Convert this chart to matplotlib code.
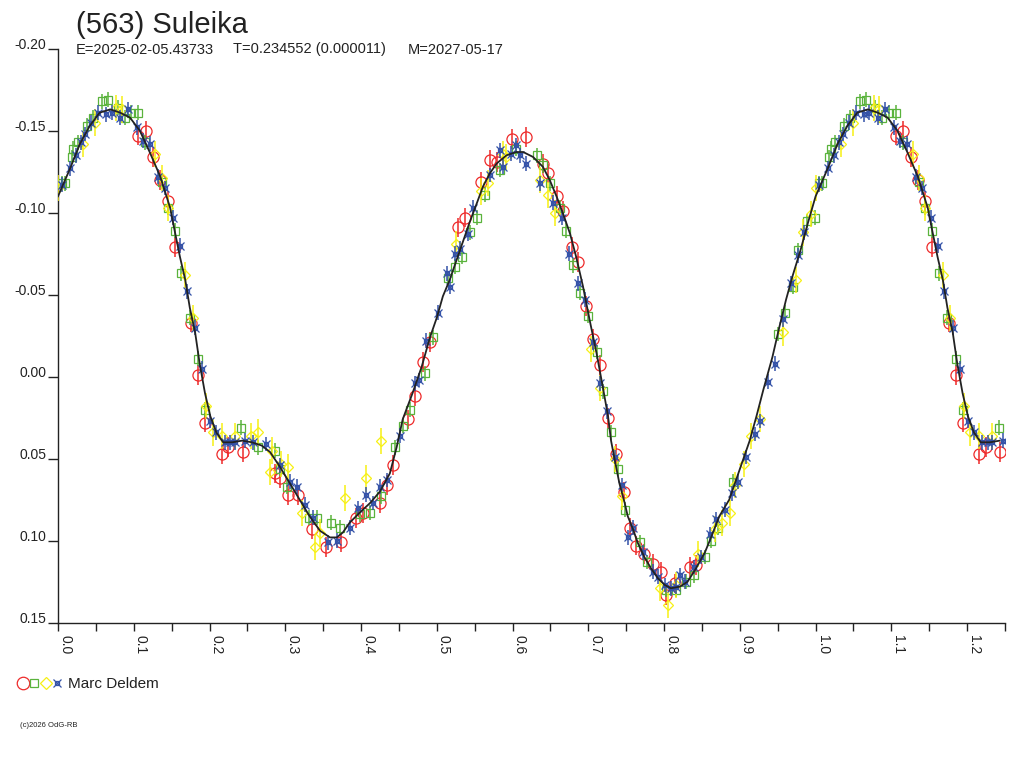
import numpy as np
import matplotlib
matplotlib.use('Agg')
import matplotlib.pyplot as plt
from matplotlib.lines import Line2D

plt.rcParams['font.family'] = ['Liberation Sans', 'DejaVu Sans']
plt.rcParams['axes.unicode_minus'] = False

# fitted lightcurve (phase 0..1), repeated past phase 1
fit_phase = [0.000, 0.016, 0.029, 0.042, 0.055, 0.069, 0.082, 0.095, 0.108, 0.121,
             0.135, 0.148, 0.154, 0.161, 0.168, 0.174, 0.181, 0.187, 0.194, 0.201,
             0.209, 0.218, 0.230, 0.243, 0.256, 0.269, 0.280, 0.293, 0.306, 0.319,
             0.332, 0.346, 0.359, 0.368, 0.376, 0.385, 0.398, 0.412, 0.425, 0.438,
             0.447, 0.455, 0.468, 0.480, 0.491, 0.500, 0.508, 0.517, 0.526, 0.535,
             0.544, 0.553, 0.561, 0.570, 0.579, 0.592, 0.605, 0.614, 0.627, 0.640,
             0.649, 0.658, 0.667, 0.676, 0.684, 0.693, 0.702, 0.711, 0.719, 0.726,
             0.730, 0.735, 0.741, 0.748, 0.752, 0.759, 0.765, 0.774, 0.783, 0.792,
             0.801, 0.809, 0.821, 0.831, 0.842, 0.854, 0.862, 0.873, 0.886, 0.895,
             0.904, 0.913, 0.922, 0.931, 0.943, 0.952, 0.961, 0.970, 0.980, 0.990, 1.000]
fit_mag = [-0.110, -0.127, -0.142, -0.153, -0.161, -0.163, -0.161, -0.158, -0.150, -0.137,
           -0.122, -0.103, -0.089, -0.073, -0.059, -0.042, -0.027, -0.008, 0.010, 0.024,
           0.034, 0.040, 0.040, 0.039, 0.040, 0.042, 0.046, 0.055, 0.065, 0.075,
           0.085, 0.094, 0.098, 0.098, 0.095, 0.089, 0.083, 0.077, 0.070, 0.059,
           0.043, 0.026, 0.010, -0.006, -0.024, -0.036, -0.049, -0.059, -0.071, -0.083,
           -0.095, -0.106, -0.116, -0.124, -0.130, -0.135, -0.137, -0.137, -0.134, -0.128,
           -0.120, -0.110, -0.099, -0.087, -0.073, -0.055, -0.034, -0.014, 0.006, 0.024,
           0.039, 0.051, 0.065, 0.077, 0.085, 0.093, 0.101, 0.110, 0.117, 0.123,
           0.127, 0.129, 0.128, 0.125, 0.117, 0.107, 0.098, 0.085, 0.075, 0.063,
           0.051, 0.039, 0.024, 0.008, -0.012, -0.030, -0.047, -0.062, -0.077, -0.094, -0.110]

# session 1 (red circles)
red_phase = [0.106, 0.116, 0.126, 0.135, 0.145, 0.154, 0.176, 0.185, 0.194, 0.216,
             0.225, 0.244, 0.286, 0.293, 0.304, 0.317, 0.335, 0.354, 0.374, 0.394,
             0.402, 0.425, 0.434, 0.442, 0.462, 0.471, 0.482, 0.491, 0.528, 0.537,
             0.559, 0.570, 0.579, 0.599, 0.618, 0.640, 0.647, 0.658, 0.667, 0.678,
             0.686, 0.697, 0.706, 0.715, 0.726, 0.736, 0.747, 0.755, 0.763, 0.774,
             0.785, 0.796, 0.803, 0.814, 0.834, 0.842]
red_mag = [-0.147, -0.150, -0.134, -0.120, -0.107, -0.079, -0.033, -0.001, 0.028, 0.047,
           0.043, 0.046, 0.059, 0.062, 0.072, 0.072, 0.093, 0.104, 0.101, 0.086,
           0.083, 0.077, 0.066, 0.054, 0.026, 0.012, -0.009, -0.021, -0.091, -0.097,
           -0.119, -0.132, -0.131, -0.145, -0.146, -0.130, -0.124, -0.110, -0.101, -0.079,
           -0.070, -0.043, -0.023, -0.007, 0.025, 0.047, 0.070, 0.092, 0.103, 0.108,
           0.114, 0.119, 0.133, 0.126, 0.116, 0.115]

# session 2 (green squares)
green_phase = [0.005, 0.009, 0.018, 0.020, 0.026, 0.038, 0.046, 0.058, 0.066, 0.079,
               0.088, 0.097, 0.106, 0.115, 0.137, 0.145, 0.154, 0.163, 0.174, 0.185,
               0.194, 0.242, 0.264, 0.286, 0.293, 0.302, 0.331, 0.342, 0.361, 0.372,
               0.398, 0.412, 0.427, 0.445, 0.455, 0.464, 0.484, 0.495, 0.515, 0.524,
               0.533, 0.544, 0.553, 0.563, 0.583, 0.605, 0.632, 0.640, 0.649, 0.662,
               0.671, 0.680, 0.689, 0.699, 0.711, 0.719, 0.730, 0.739, 0.749, 0.768,
               0.778, 0.803, 0.816, 0.829, 0.840, 0.854, 0.862, 0.871, 0.891, 0.950,
               0.959, 0.970, 0.977, 0.989, 0.999]
green_mag = [-0.118, -0.118, -0.134, -0.139, -0.143, -0.153, -0.158, -0.168, -0.169, -0.164,
             -0.158, -0.161, -0.161, -0.143, -0.119, -0.103, -0.089, -0.063, -0.036, -0.011,
             0.020, 0.031, 0.043, 0.045, 0.056, 0.067, 0.086, 0.086, 0.089, 0.092,
             0.084, 0.083, 0.073, 0.043, 0.030, 0.020, -0.002, -0.024, -0.060, -0.067,
             -0.073, -0.088, -0.097, -0.111, -0.126, -0.139, -0.135, -0.129, -0.118, -0.103,
             -0.089, -0.068, -0.051, -0.037, -0.015, 0.009, 0.034, 0.056, 0.081, 0.101,
             0.113, 0.130, 0.130, 0.125, 0.121, 0.110, 0.100, 0.092, 0.064, -0.026,
             -0.039, -0.055, -0.077, -0.095, -0.097]

# session 3 (yellow diamonds)
yellow_phase = [0.000, 0.033, 0.049, 0.077, 0.084, 0.128, 0.137, 0.145, 0.168, 0.178,
                0.196, 0.204, 0.216, 0.233, 0.255, 0.264, 0.280, 0.282, 0.295, 0.304,
                0.322, 0.339, 0.346, 0.379, 0.407, 0.427, 0.526, 0.559, 0.567, 0.587,
                0.592, 0.636, 0.647, 0.656, 0.704, 0.715, 0.735, 0.745, 0.794, 0.805,
                0.816, 0.845, 0.867, 0.876, 0.887, 0.893, 0.906, 0.915, 0.926, 0.957,
                0.974, 0.983, 0.994]
yellow_mag = [-0.115, -0.142, -0.155, -0.164, -0.163, -0.136, -0.121, -0.103, -0.062, -0.036,
              0.018, 0.034, 0.036, 0.036, 0.036, 0.034, 0.058, 0.045, 0.053, 0.055,
              0.083, 0.104, 0.095, 0.074, 0.062, 0.039, -0.081, -0.113, -0.118, -0.136,
              -0.134, -0.120, -0.111, -0.100, -0.017, 0.007, 0.050, 0.073, 0.129, 0.139,
              0.127, 0.108, 0.093, 0.089, 0.083, 0.066, 0.053, 0.036, 0.026, -0.027,
              -0.059, -0.088, -0.099]

# session 4 (blue)
blue_phase = [0.005, 0.016, 0.024, 0.031, 0.036, 0.044, 0.053, 0.064, 0.071, 0.082,
              0.092, 0.104, 0.112, 0.121, 0.132, 0.141, 0.152, 0.161, 0.170, 0.181,
              0.190, 0.201, 0.209, 0.220, 0.227, 0.233, 0.247, 0.257, 0.275, 0.293,
              0.306, 0.315, 0.326, 0.337, 0.356, 0.368, 0.385, 0.396, 0.407, 0.416,
              0.425, 0.434, 0.452, 0.471, 0.477, 0.486, 0.501, 0.513, 0.517, 0.524,
              0.530, 0.541, 0.548, 0.570, 0.583, 0.587, 0.598, 0.605, 0.610, 0.618,
              0.636, 0.653, 0.665, 0.675, 0.686, 0.695, 0.706, 0.715, 0.724, 0.735,
              0.744, 0.752, 0.759, 0.772, 0.785, 0.792, 0.801, 0.809, 0.816, 0.821,
              0.827, 0.840, 0.849, 0.860, 0.869, 0.880, 0.889, 0.897, 0.908, 0.920,
              0.926, 0.937, 0.946, 0.957, 0.968, 0.977, 0.985]
blue_mag = [-0.117, -0.127, -0.135, -0.143, -0.148, -0.155, -0.161, -0.160, -0.161, -0.158,
            -0.163, -0.152, -0.144, -0.142, -0.122, -0.115, -0.097, -0.080, -0.052, -0.030,
            -0.005, 0.027, 0.034, 0.040, 0.040, 0.040, 0.039, 0.040, 0.041, 0.054,
            0.064, 0.067, 0.078, 0.086, 0.101, 0.100, 0.092, 0.080, 0.072, 0.077,
            0.067, 0.063, 0.036, 0.004, 0.002, -0.022, -0.039, -0.063, -0.055, -0.075,
            -0.078, -0.087, -0.103, -0.123, -0.138, -0.128, -0.136, -0.141, -0.135, -0.130,
            -0.118, -0.106, -0.097, -0.075, -0.057, -0.047, -0.021, 0.004, 0.021, 0.049,
            0.066, 0.098, 0.092, 0.107, 0.119, 0.122, 0.127, 0.129, 0.128, 0.121,
            0.125, 0.116, 0.110, 0.096, 0.087, 0.081, 0.071, 0.064, 0.049, 0.035,
            0.027, 0.003, -0.008, -0.035, -0.057, -0.074, -0.088]

red_err, green_err, yellow_err, blue_err = 0.006, 0.0045, 0.008, 0.0045

x_ticks = [0.0, 0.1, 0.2, 0.3, 0.4, 0.5, 0.6, 0.7, 0.8, 0.9, 1.0, 1.1, 1.2]
x_minor = [0.05, 0.15, 0.25, 0.35, 0.45, 0.55, 0.65, 0.75, 0.85, 0.95, 1.05, 1.15, 1.25]
y_ticks = [-0.20, -0.15, -0.10, -0.05, 0.00, 0.05, 0.10, 0.15]

RED, GREEN, YELLOW, BLUE = '#ee2a2a', '#5ab33c', '#f7f014', '#3452a8'
INK = '#222222'


def wrap(phase, mag):
    # phased data shown again after phase 1 up to 1.25
    p = np.asarray(phase)
    m = np.asarray(mag)
    sel = p <= 0.25
    return np.concatenate([p, p[sel] + 1.0]), np.concatenate([m, m[sel]])


fig = plt.figure(figsize=(10.24, 7.68), dpi=100)
ax = fig.add_axes([58 / 1024, 1 - 622.7 / 768, (1005 - 58) / 1024, (622.7 - 48.7) / 768])

# each entry: data, error, list of (marker, size) drawn on top of each other
series = [
    (red_phase, red_mag, red_err, [('o', 8.0)], RED),
    (green_phase, green_mag, green_err, [('s', 5.8)], GREEN),
    (yellow_phase, yellow_mag, yellow_err, [('D', 5.2)], YELLOW),
    (blue_phase, blue_mag, blue_err, [('x', 6.4), ('s', 3.4)], BLUE),
]
for i, (ph, mg, er, marks, col) in enumerate(series):
    px, py = wrap(ph, mg)
    ax.errorbar(px, py, yerr=er, fmt='none', ecolor=col,
                elinewidth=1.1, capsize=0, zorder=2 + i)
    for mk, ms in marks:
        ax.plot(px, py, ls='none', marker=mk, mfc='none', mec=col,
                ms=ms, mew=0.9, zorder=2 + i)

fx, fy = wrap(fit_phase[:-1], fit_mag[:-1])
order = np.argsort(fx)
ax.plot(fx[order], fy[order], color=INK, lw=1.3, zorder=10)

ax.set_xlim(0, 1.25)
ax.set_ylim(0.15, -0.20)
for s in ['top', 'right']:
    ax.spines[s].set_visible(False)
for s in ['left', 'bottom']:
    ax.spines[s].set_color(INK)
    ax.spines[s].set_linewidth(1.0)

ax.set_xticks(x_ticks)
ax.set_xticks(x_minor, minor=True)
ax.set_xticklabels([f'{v:.1f}' for v in x_ticks], rotation=270, ha='left',
                   fontsize=10, color=INK)
ax.tick_params(axis='x', which='both', direction='out', length=6, width=1.0,
               color=INK, pad=3)
ax.set_yticks(y_ticks)
ax.set_yticklabels([f'{v:.2f}' for v in y_ticks], fontsize=10, color=INK)
ax.tick_params(axis='y', direction='out', length=7.5, width=1.0, color=INK, pad=1)
for lbl in ax.get_yticklabels():
    lbl.set_verticalalignment('baseline')

fig.text(76 / 1024, 1 - 33 / 768, '(563) Suleika', fontsize=21, color=INK, va='baseline')
fig.text(76 / 1024, 1 - 53.5 / 768, 'E=2025-02-05.43733', fontsize=10.5, color=INK, va='baseline')
fig.text(233 / 1024, 1 - 53.5 / 768, 'T=0.234552 (0.000011)', fontsize=10.5, color=INK, va='baseline')
fig.text(408 / 1024, 1 - 53.5 / 768, 'M=2027-05-17', fontsize=10.5, color=INK, va='baseline')

# observer legend
leg_y = 1 - 683 / 768
for lx, mk, col, ms in [(23, 'o', RED, 9), (34, 's', GREEN, 6), (46, 'D', YELLOW, 6.5),
                        (57, 'x', BLUE, 5.5), (57, 's', BLUE, 3.0)]:
    fig.add_artist(Line2D([lx / 1024], [leg_y], marker=mk, ms=ms, mfc='none', mec=col,
                          mew=0.9, transform=fig.transFigure))
fig.text(68 / 1024, 1 - 688 / 768, 'Marc Deldem', fontsize=11, color=INK, va='baseline')
fig.text(20 / 1024, 1 - 727 / 768, '(c)2026 OdG-RB', fontsize=5.5, color=INK, va='baseline')

fig.savefig('out.png', dpi=100)
